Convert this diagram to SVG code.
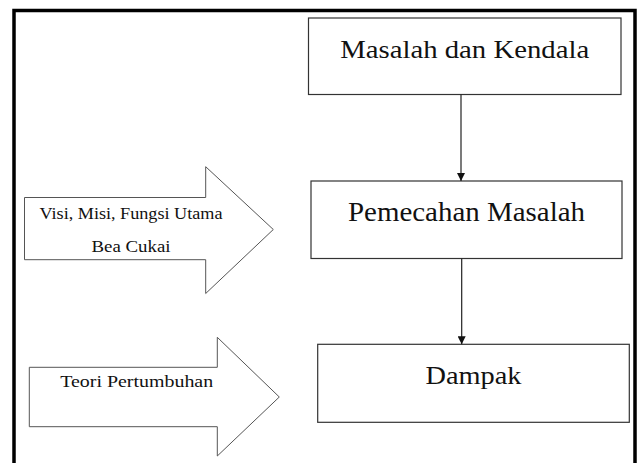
<svg xmlns="http://www.w3.org/2000/svg" width="640" height="463" viewBox="0 0 640 463">
<defs>
<style>
.box{fill:#fff;stroke:#333;stroke-width:1.2}
.blk{fill:#fff;stroke:#555;stroke-width:1}
.big{font-family:"Liberation Serif",serif;fill:#111;text-anchor:middle}
.sm{font-family:"Liberation Serif",serif;font-size:16px;fill:#111;text-anchor:middle}
.con{stroke:#222;stroke-width:1.2;fill:none}
</style>
<marker id="ah" viewBox="0 0 8 8" refX="8" refY="4" markerWidth="8" markerHeight="8" markerUnits="userSpaceOnUse" orient="auto">
<path d="M0,0 L8,4 L0,8 Z" fill="#111"/>
</marker>
</defs>
<rect width="640" height="463" fill="#fff"/>
<path d="M14,470 V10.5 H635 V470" fill="none" stroke="#000" stroke-width="3.5"/>
<g id="masalah">
<rect class="box" x="308.5" y="18" width="312.5" height="76.5"/>
<text class="big" x="464.7" y="58" font-size="26" textLength="249" lengthAdjust="spacingAndGlyphs">Masalah dan Kendala</text>
</g>
<g id="pemecahan">
<rect class="box" x="311" y="181" width="311" height="77.5"/>
<text class="big" x="466.5" y="220.7" font-size="27.5" textLength="237" lengthAdjust="spacingAndGlyphs">Pemecahan Masalah</text>
</g>
<g id="dampak">
<rect class="box" x="317.7" y="344.3" width="311.6" height="78"/>
<text class="big" x="473.5" y="384" font-size="25" textLength="96" lengthAdjust="spacingAndGlyphs">Dampak</text>
</g>
<g id="visi">
<path class="blk" d="M24.5,197.5 H205.7 V166.7 L273.3,229.5 L205.7,293.5 V259.7 H24.5 Z"/>
<text class="sm" x="131" y="219.3" textLength="183" lengthAdjust="spacingAndGlyphs">Visi, Misi, Fungsi Utama</text>
<text class="sm" x="131" y="252.2" textLength="79" lengthAdjust="spacingAndGlyphs">Bea Cukai</text>
</g>
<g id="teori">
<path class="blk" d="M29.3,367.3 H217.3 V337.3 L279.3,397 L217.3,456 V426.7 H29.3 Z"/>
<text class="sm" x="136.7" y="387.3" textLength="153" lengthAdjust="spacingAndGlyphs">Teori Pertumbuhan</text>
</g>
<g id="connectors">
<line class="con" x1="461" y1="94.5" x2="461" y2="181" marker-end="url(#ah)"/>
<line class="con" x1="461.7" y1="258.5" x2="461.7" y2="344.3" marker-end="url(#ah)"/>
</g>
</svg>
